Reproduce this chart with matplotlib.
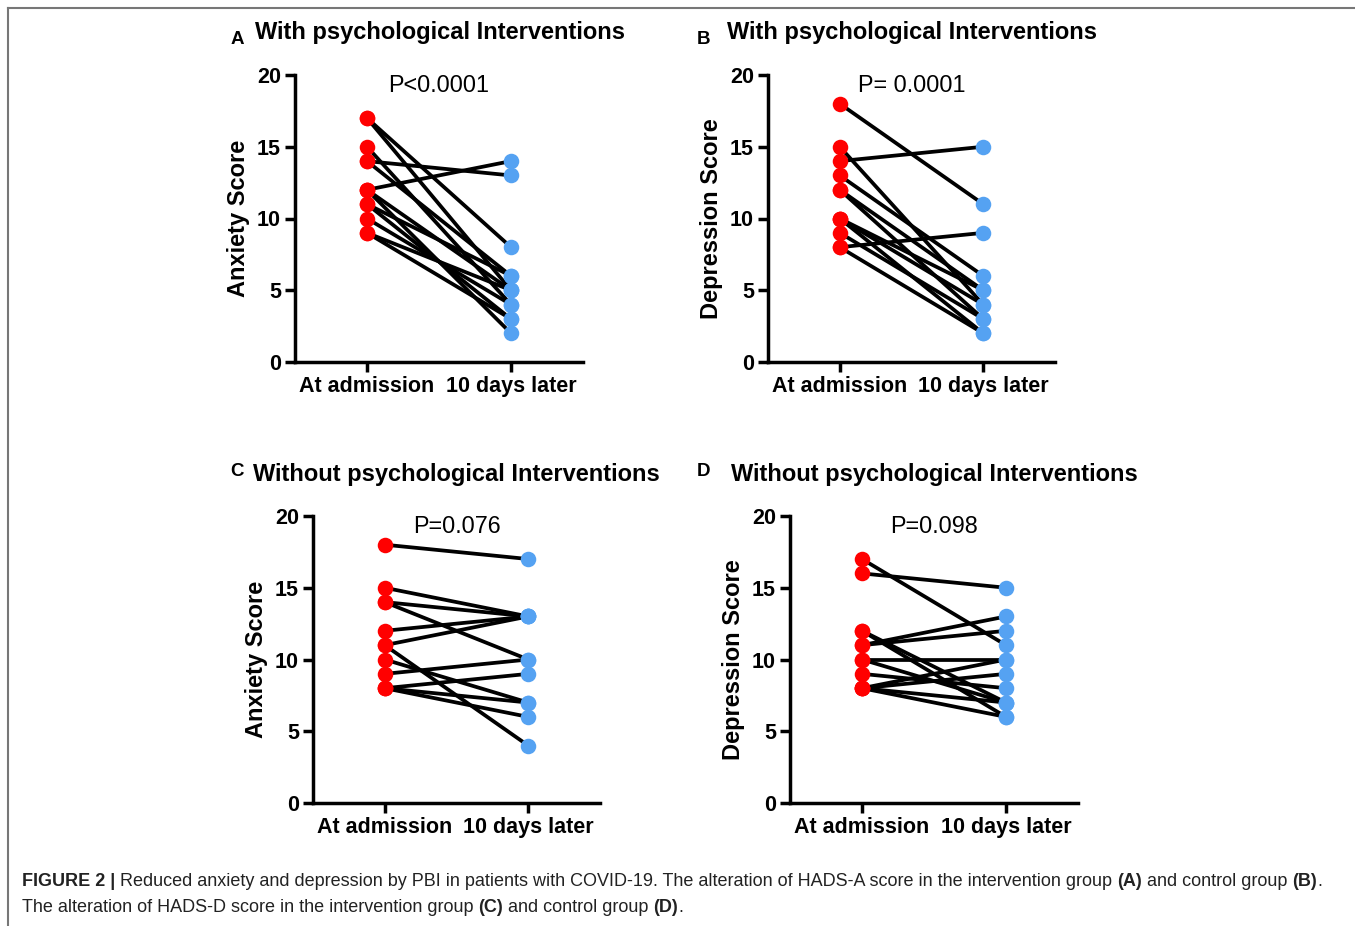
import matplotlib
matplotlib.use("Agg")
import matplotlib.pyplot as plt
from matplotlib.lines import Line2D

plt.rcParams['font.family'] = ['Liberation Sans', 'DejaVu Sans']

categories = ["At admission", "10 days later"]

A_before = [17, 17, 15, 14, 14, 12, 12, 12, 11, 11, 10, 9, 9]
A_after = [8, 5, 4, 13, 6, 14, 5, 2, 6, 3, 4, 3, 5]

B_before = [18, 15, 14, 13, 12, 12, 10, 10, 10, 9, 8, 8]
B_after = [11, 4, 15, 6, 5, 3, 5, 4, 2, 3, 9, 2]

C_before = [18, 15, 14, 14, 12, 11, 11, 10, 9, 8, 8, 8]
C_after = [17, 13, 13, 10, 13, 13, 4, 7, 10, 9, 7, 6]

D_before = [17, 16, 12, 12, 11, 11, 10, 10, 9, 8, 8, 8, 8]
D_after = [11, 15, 7, 6, 13, 12, 10, 7, 8, 10, 9, 7, 6]

panels = [
    dict(letter="A", title="With psychological Interventions", ylabel="Anxiety Score",
         p="P<0.0001", before=A_before, after=A_after),
    dict(letter="B", title="With psychological Interventions", ylabel="Depression Score",
         p="P= 0.0001", before=B_before, after=B_after),
    dict(letter="C", title="Without psychological Interventions", ylabel="Anxiety Score",
         p="P=0.076", before=C_before, after=C_after),
    dict(letter="D", title="Without psychological Interventions", ylabel="Depression Score",
         p="P=0.098", before=D_before, after=D_after),
]

W, H = 1355, 926
fig = plt.figure(figsize=(W / 100, H / 100), dpi=100)

def fx(px):
    return px / W

def fy(py):
    return 1 - py / H

# axes geometry in pixels: (left, top, right, bottom)
geoms = [(295, 75, 583, 362), (768, 75, 1055, 362),
         (313, 516, 600, 803), (790, 516, 1078, 803)]
letter_pos = [(231, 40), (697, 40), (230, 471), (697, 471)]
title_pos = [(255, 33), (727, 33), (253, 474), (731, 474)]

red = "#FF0000"
blue = "#55A2F2"

for pnl, g, lp, tp in zip(panels, geoms, letter_pos, title_pos):
    l, t, r, b = g
    ax = fig.add_axes([fx(l), fy(b), fx(r) - fx(l), fy(t) - fy(b)])
    for y0, y1 in zip(pnl["before"], pnl["after"]):
        ax.plot([0, 1], [y0, y1], color="black", lw=2.7, zorder=2, clip_on=False,
                solid_capstyle="round")
    ax.scatter([0] * len(pnl["before"]), pnl["before"], s=125, color=red, zorder=3,
               clip_on=False, linewidths=0)
    ax.scatter([1] * len(pnl["after"]), pnl["after"], s=125, color=blue, zorder=3,
               clip_on=False, linewidths=0)
    ax.set_xlim(-0.5, 1.5)
    ax.set_ylim(0, 20)
    ax.set_yticks([0, 5, 10, 15, 20])
    ax.set_xticks([0, 1])
    ax.set_xticklabels(categories)
    for s in ["top", "right"]:
        ax.spines[s].set_visible(False)
    for s in ["left", "bottom"]:
        ax.spines[s].set_linewidth(2.5)
    ax.tick_params(axis="both", width=2.5, length=7, labelsize=15.5, pad=3)
    for lab in ax.get_xticklabels() + ax.get_yticklabels():
        lab.set_fontweight("bold")
    ax.set_ylabel(pnl["ylabel"], fontsize=17, fontweight="bold", labelpad=5)
    ax.text(0.5, 19.3, pnl["p"], ha="center", va="center", fontsize=16.8)
    fig.text(fx(lp[0]), fy(lp[1]), pnl["letter"], ha="left", va="center",
             fontsize=13.5, fontweight="bold")
    fig.text(fx(tp[0]), fy(tp[1]), pnl["title"], ha="left", va="center",
             fontsize=17, fontweight="bold")

# frame lines
fig.add_artist(Line2D([fx(8), fx(8)], [fy(8), 0], color="#777777", lw=1.5))
fig.add_artist(Line2D([fx(8), 1], [fy(8), fy(8)], color="#777777", lw=1.5))

# caption with mixed weights
cap_font = ['Liberation Sans', 'DejaVu Sans']
renderer = fig.canvas.get_renderer()

def chain(pieces, x0, ypix):
    x = fx(x0)
    for txt, bold in pieces:
        t = fig.text(x, fy(ypix), txt, ha="left", va="center", fontsize=13.0,
                     family=cap_font, color="#222222",
                     fontweight="bold" if bold else "normal")
        bb = t.get_window_extent(renderer=renderer)
        x = bb.x1 / W

line1 = [("FIGURE 2 |", True),
         (" Reduced anxiety and depression by PBI in patients with COVID-19. The alteration of HADS-A score in the intervention group ", False),
         ("(A)", True), (" and control group ", False), ("(B)", True), (".", False)]
line2 = [("The alteration of HADS-D score in the intervention group ", False),
         ("(C)", True), (" and control group ", False), ("(D)", True), (".", False)]
chain(line1, 22, 881)
chain(line2, 22, 907)

fig.savefig("out.png", dpi=100)
